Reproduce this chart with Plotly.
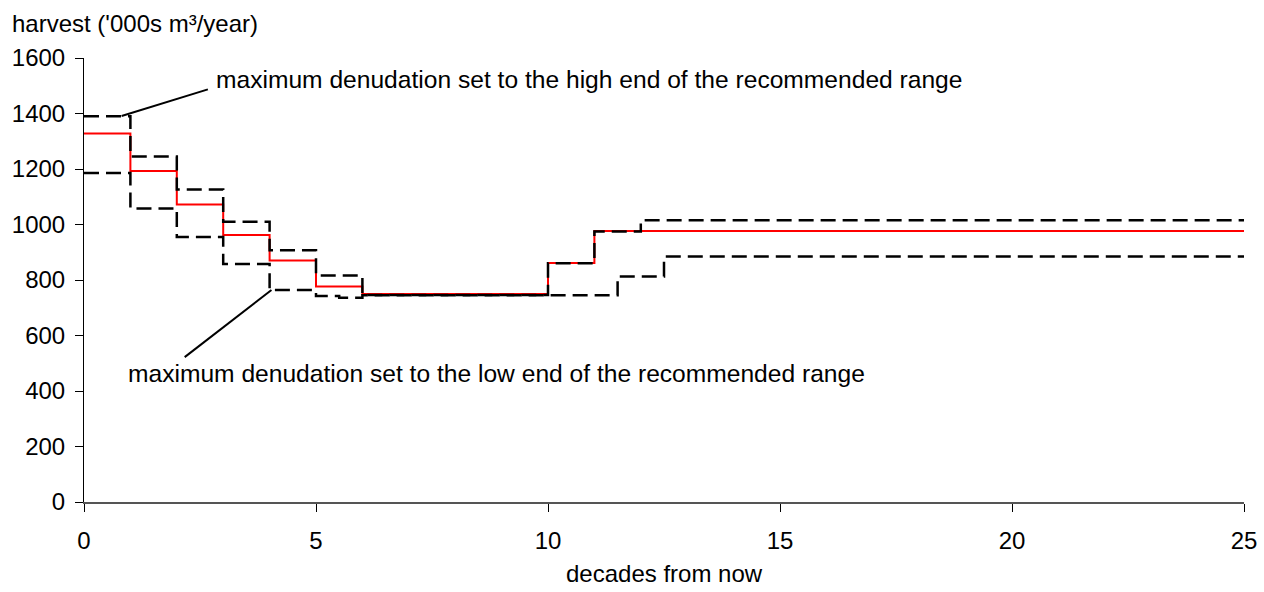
import plotly.graph_objects as go

# Data (decades from now, harvest '000s m3/year) - step series
mid_x = [0, 1, 2, 3, 4, 5, 6, 10, 11, 25]
mid_y = [1328, 1193, 1072, 962, 870, 777, 750, 861, 977, 977]

high_x = [0, 1, 2, 3, 4, 5, 6, 10, 11, 12, 25]
high_y = [1390, 1245, 1126, 1010, 907, 816, 746, 860, 975, 1015, 1015]

low_x = [0, 1, 2, 3, 4, 5, 5.5, 6, 11.5, 12.5, 25]
low_y = [1186, 1058, 955, 858, 764, 742, 736, 745, 813, 885, 885]

x_ticks = [0, 5, 10, 15, 20, 25]
y_ticks = [0, 200, 400, 600, 800, 1000, 1200, 1400, 1600]

label_high = "maximum denudation set to the high end of the recommended range"
label_low = "maximum denudation set to the low end of the recommended range"
y_title = "harvest ('000s m³/year)"
x_title = "decades from now"

FONT = "Arial, 'Liberation Sans', sans-serif"
FS = 24
FS_ANN = 24.6

fig = go.Figure()
fig.add_trace(go.Scatter(x=mid_x, y=mid_y, mode="lines", line_shape="hv",
                         line=dict(color="#FF0000", width=2), showlegend=False,
                         hoverinfo="skip"))
fig.add_trace(go.Scatter(x=high_x, y=high_y, mode="lines", line_shape="hv",
                         line=dict(color="black", width=2.5, dash="15px,7px"),
                         showlegend=False, hoverinfo="skip"))
fig.add_trace(go.Scatter(x=low_x, y=low_y, mode="lines", line_shape="hv",
                         line=dict(color="black", width=2.5, dash="15px,7px"),
                         showlegend=False, hoverinfo="skip"))

# annotation leader lines
fig.add_shape(type="line", x0=2.67, y0=1487, x1=0.81, y1=1391,
              line=dict(color="black", width=2))
fig.add_shape(type="line", x0=2.17, y0=522, x1=4.04, y1=764,
              line=dict(color="black", width=2))

fig.add_annotation(x=2.80, y=1524, xref="x", yref="y", text=label_high,
                   showarrow=False, xanchor="left", yanchor="middle",
                   font=dict(family=FONT, size=FS_ANN, color="black"))
fig.add_annotation(x=0.90, y=463, xref="x", yref="y", text=label_low,
                   showarrow=False, xanchor="left", yanchor="middle",
                   font=dict(family=FONT, size=FS_ANN, color="black"))
fig.add_annotation(x=-74/1160, y=(502-24)/444, xref="paper", yref="paper",
                   text=y_title, showarrow=False, xanchor="left", yanchor="middle",
                   font=dict(family=FONT, size=FS, color="black"))
fig.add_annotation(x=0.5, y=(502-573)/444, xref="paper", yref="paper",
                   text=x_title, showarrow=False, xanchor="center", yanchor="middle",
                   font=dict(family=FONT, size=FS, color="black"))

fig.update_layout(
    width=1264, height=592,
    margin=dict(l=84, r=20, t=58, b=90, autoexpand=False),
    paper_bgcolor="white", plot_bgcolor="white",
    font=dict(family=FONT, size=FS, color="black"),
    xaxis=dict(range=[0, 25], tickvals=x_ticks, showgrid=False, zeroline=False,
               showline=True, linecolor="#555555", linewidth=1.5,
               ticks="outside", ticklen=8, tickcolor="black", tickwidth=1,
               ticklabelstandoff=8, automargin=False),
    yaxis=dict(range=[0, 1600], tickvals=y_ticks, showgrid=False, zeroline=False,
               showline=True, linecolor="black", linewidth=1,
               ticks="outside", ticklen=8, tickcolor="black", tickwidth=1,
               ticklabelstandoff=5, automargin=False),
)

fig.write_html("out.html", config={"displayModeBar": False},
               post_script="document.body.style.margin='0';document.body.style.overflow='hidden';")
